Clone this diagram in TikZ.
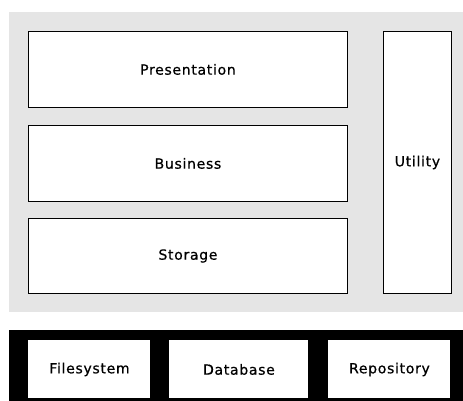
\documentclass[tikz,border=0pt]{standalone}
\usepackage{fontspec}
\setmainfont{DejaVu Sans}[LetterSpace=5,FakeBold=0.6]
\begin{document}
\begin{tikzpicture}[x=1pt,y=-1pt,
  layer/.style={draw=black,line width=0.9pt,fill=white,font=\fontsize{14}{16}\selectfont,text=black},
  panel/.style={draw=none}]
\useasboundingbox (0,0) rectangle (463,401);
\fill[white] (0,0) rectangle (463,401);
\node[panel,fill=black!10,minimum width=454pt,minimum height=300pt,anchor=north west,inner sep=0pt] (app) at (9,12) {};
\node[panel,fill=black,minimum width=454pt,minimum height=71pt,anchor=north west,inner sep=0pt] (infra) at (9,330) {};
\node[layer,anchor=north west,minimum width=319pt,minimum height=76pt,inner sep=0pt] (pres) at (28,31) {Presentation};
\node[layer,anchor=north west,minimum width=319pt,minimum height=76pt,inner sep=0pt] (bus) at (28,125) {Business};
\node[layer,anchor=north west,minimum width=319pt,minimum height=75pt,inner sep=0pt] (sto) at (28,218) {Storage};
\node[layer,anchor=north west,minimum width=68pt,minimum height=262pt,inner sep=0pt] (util) at (383,31) {Utility};
\node[layer,draw=none,anchor=north west,minimum width=122pt,minimum height=58pt,inner sep=0pt] (fs) at (28,340) {Filesystem};
\node[layer,draw=none,anchor=north west,minimum width=139pt,minimum height=58pt,inner sep=0pt] (db) at (169,340) {Database};
\node[layer,draw=none,anchor=north west,minimum width=122pt,minimum height=58pt,inner sep=0pt] (repo) at (328,340) {Repository};
\end{tikzpicture}
\end{document}
